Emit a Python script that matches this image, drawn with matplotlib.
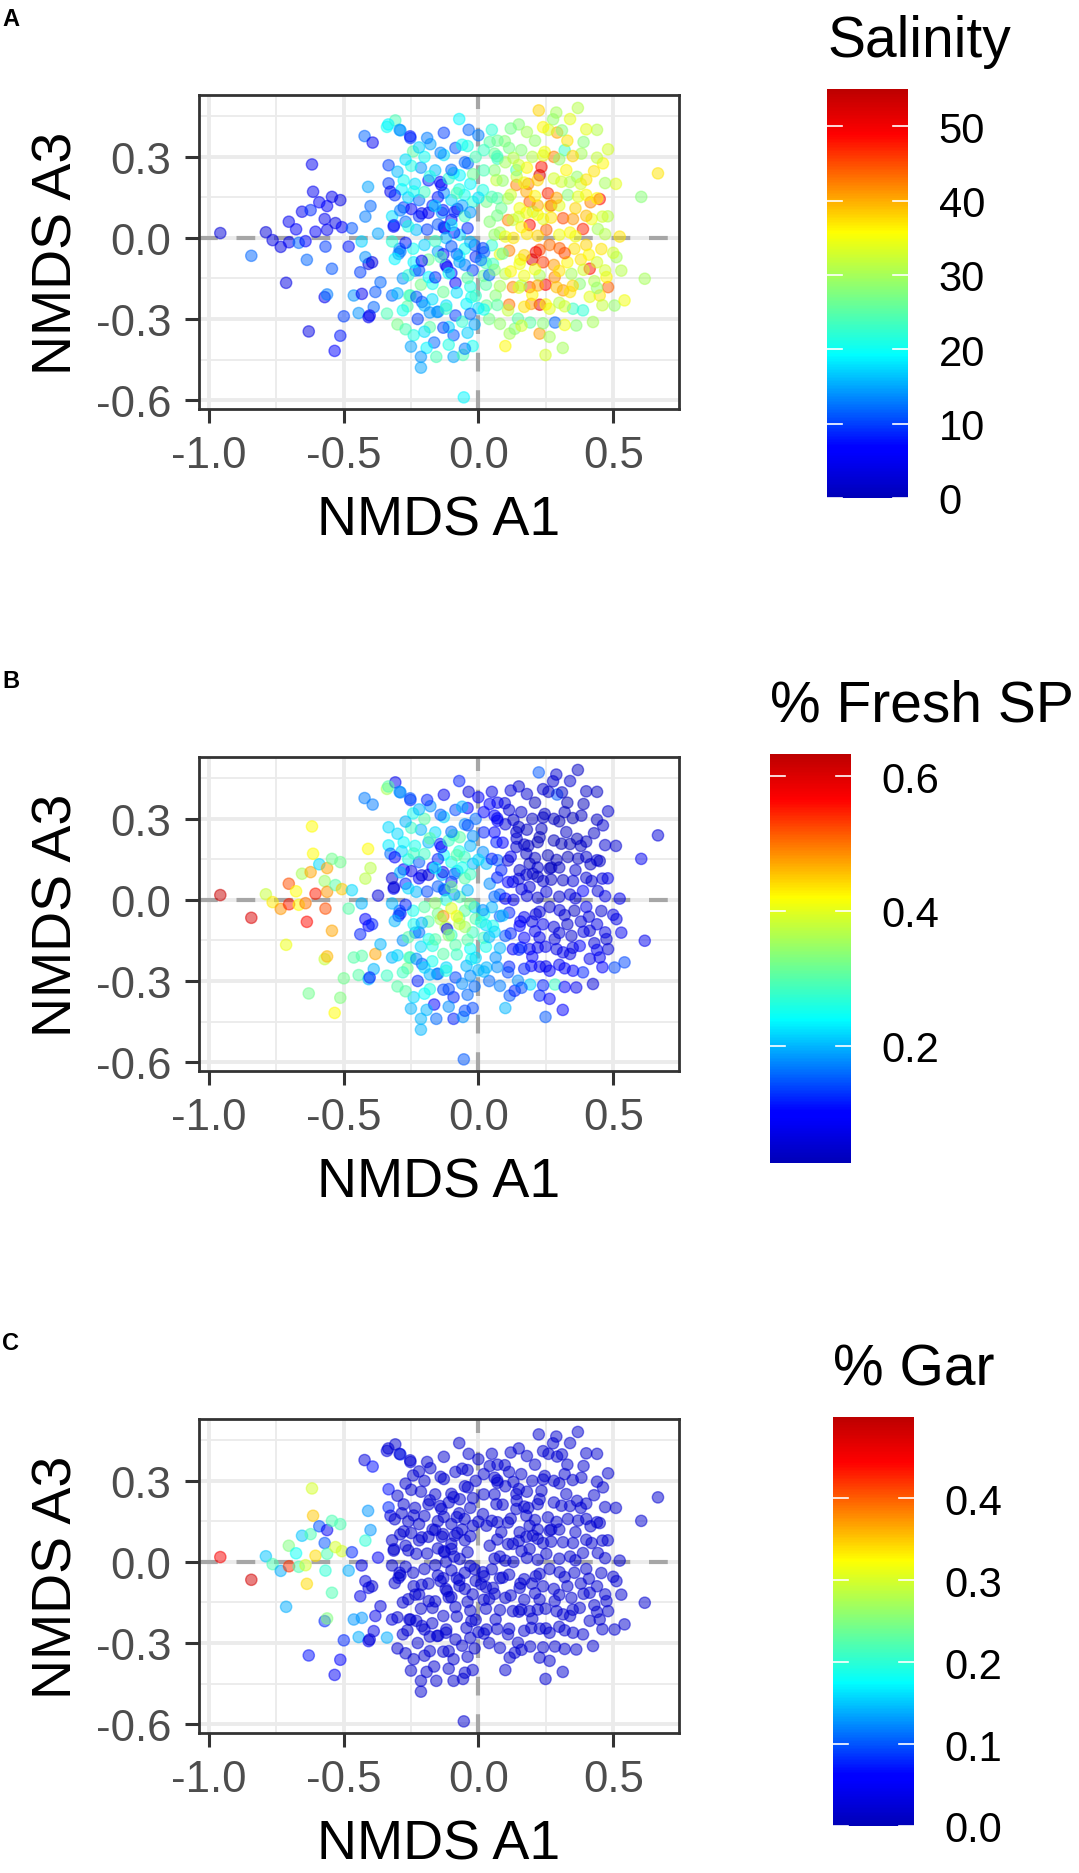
import numpy as np
import matplotlib
matplotlib.use("Agg")
import matplotlib.pyplot as plt
from matplotlib import cm, colors

plt.rcParams['font.family'] = ['Liberation Sans', 'DejaVu Sans']

# ---- data: NMDS A1, NMDS A3, salinity, % fresh SP, % gar ----
nmds_a1 = [
 -0.957,-0.842,-0.788,-0.763,-0.733,-0.703,-0.702,-0.676,-0.666,-0.641,
 -0.654,-0.622,-0.617,-0.613,-0.590,-0.604,-0.570,-0.567,-0.561,-0.561,
 -0.543,-0.530,-0.512,-0.506,-0.469,-0.481,-0.636,-0.543,-0.713,-0.570,
 -0.561,-0.629,-0.512,-0.533,-0.499,-0.462,-0.432,-0.444,-0.407,-0.388,
 -0.382,-0.363,-0.320,-0.339,-0.407,-0.438,-0.419,-0.394,-0.296,-0.422,
 -0.392,-0.333,-0.409,-0.400,-0.419,-0.333,-0.326,-0.372,-0.314,-0.289,
 -0.433,-0.339,-0.308,-0.289,-0.252,-0.403,
 # middle
 -0.334,-0.292,-0.253,-0.128,-0.071,-0.036,0.000,-0.178,-0.128,-0.085,
 -0.242,-0.213,-0.249,-0.277,-0.284,-0.235,-0.185,-0.142,-0.128,-0.092,
 -0.050,-0.071,-0.320,-0.313,-0.277,-0.249,-0.220,-0.185,-0.135,-0.100,
 -0.128,-0.078,-0.292,-0.320,-0.242,-0.220,-0.185,-0.121,-0.085,-0.071,
 -0.050,-0.014,0.021,0.050,0.028,-0.021,-0.213,-0.256,-0.171,-0.263,
 -0.225,-0.149,-0.085,-0.014,-0.164,-0.192,-0.213,-0.156,-0.092,-0.057,
 -0.021,-0.054,-0.213,-0.092,-0.209,-0.252,-0.234,-0.184,-0.153,-0.116,
 -0.026,-0.119,-0.044,-0.137,-0.131,-0.088,-0.125,-0.069,-0.039,-0.051,
 -0.020,-0.069,0.017,
 # right
 0.042,0.098,0.159,0.246,0.320,0.390,0.481,0.382,0.462,0.429,
 0.366,0.326,0.666,0.604,0.450,0.416,0.400,0.234,0.227,0.258,
 0.190,0.141,0.178,0.314,0.351,0.388,0.443,0.524,0.400,0.456,
 0.190,0.110,0.252,0.227,0.264,0.301,0.042,0.067,0.060,0.141,
 0.030,0.085,0.017,0.153,0.202,0.264,0.332,0.308,0.224,0.289,
 0.369,0.277,0.292,0.071,0.114,0.071,0.142,0.185,0.270,0.213,
 0.199,0.114,0.156,0.249,0.228,0.114,0.100,0.249,0.313,0.071,
 0.128,0.178,0.100,0.028,0.064,0.284,0.192,0.356,0.030,0.128,
 0.110,0.190,0.283,0.314,0.196,0.227,0.116,0.135,0.264,0.363,
 0.425,0.351,0.388,0.413,0.481,0.450,0.505,0.542,0.512,0.617,
 0.475,0.376,0.413,0.345,0.153,0.159,0.147,0.264,0.227,0.054,
 # dense core
 -0.26,-0.22,-0.20,-0.16,-0.11,-0.17,-0.10,-0.05,-0.03,-0.01,
 -0.15,-0.23,-0.27,-0.19,-0.04,-0.09,-0.06,-0.20,-0.12,-0.27,
 -0.15,-0.10,-0.05,-0.03,-0.17,-0.13,-0.24,-0.28,-0.20,-0.06,
 0.00,0.02,-0.11,-0.24,-0.30,-0.18,-0.01,-0.08,-0.13,0.04,
 0.08,0.12,0.16,0.20,0.24,0.28,0.30,0.34,0.36,0.38,
 0.42,0.44,0.48,0.47,0.38,0.33,0.28,0.24,0.17,0.20,
 0.30,0.34,0.43,0.08,0.13,0.06,0.10,0.18,0.21,0.26,
 0.33,0.44,0.34,0.15,0.02,0.05,0.28,0.22,0.15,0.51,
 # dense core, second pass (middle)
 -0.22,-0.14,-0.06,0.02,-0.30,-0.18,-0.10,-0.02,-0.31,-0.24,
 -0.15,-0.08,0.00,-0.29,-0.21,-0.16,-0.03,-0.26,-0.19,-0.10,
 -0.04,-0.27,-0.20,-0.16,-0.10,-0.03,-0.31,-0.21,-0.14,-0.07,
 0.01,-0.26,-0.16,-0.11,-0.04,0.04,-0.30,-0.23,-0.08,-0.01,
 -0.28,-0.18,-0.12,-0.03,0.02,-0.27,-0.20,-0.13,-0.04,-0.25,
 -0.11,-0.05,
 # dense core, second pass (right)
 0.12,0.18,0.24,0.31,0.40,0.07,0.13,0.24,0.30,0.35,
 0.44,0.09,0.17,0.22,0.34,0.40,0.47,0.05,0.11,0.21,
 0.29,0.37,0.44,0.07,0.15,0.22,0.27,0.40,0.46,0.06,
 0.10,0.18,0.22,0.30,0.36,0.47,0.09,0.17,0.32,0.41,
 0.50,0.06,0.12,0.21,0.30,0.39,0.53,0.08,0.15,0.22,
 0.29,0.35,0.44,0.07,0.17,0.25,0.32,0.46,0.08,0.16,
 0.24,0.32,
]
nmds_a3 = [
 0.018,-0.066,0.021,-0.008,-0.033,0.060,-0.016,0.032,-0.018,-0.012,
 0.097,0.103,0.272,0.171,0.132,0.023,0.070,-0.032,0.030,0.118,
 0.152,0.055,0.140,0.040,0.036,-0.032,-0.081,-0.114,-0.166,-0.219,
 -0.209,-0.346,-0.362,-0.418,-0.290,-0.213,-0.207,-0.278,-0.293,-0.256,
 -0.200,-0.164,-0.213,-0.280,-0.096,-0.127,-0.071,-0.090,-0.059,0.377,
 0.353,0.269,0.189,0.118,0.079,0.202,0.171,0.016,0.042,-0.050,
 -0.013,0.411,0.435,0.398,0.370,-0.287,
 # middle
 0.420,0.400,0.376,0.389,0.440,0.400,0.380,0.347,0.307,0.333,
 0.320,0.260,0.267,0.213,0.180,0.200,0.213,0.207,0.167,0.240,
 0.280,0.180,0.080,0.047,0.113,0.107,0.080,0.093,0.093,0.067,
 0.040,0.107,-0.040,-0.013,-0.040,-0.120,-0.080,-0.100,-0.167,-0.067,
 -0.040,-0.027,-0.053,-0.027,-0.093,-0.120,-0.173,-0.213,-0.227,-0.253,
 -0.300,-0.273,-0.287,-0.320,-0.387,-0.407,-0.440,-0.440,-0.440,-0.433,
 -0.400,-0.590,-0.480,-0.360,-0.237,-0.213,-0.121,-0.145,-0.274,-0.108,
 -0.219,-0.250,-0.244,0.196,0.103,0.097,0.036,0.232,0.276,0.159,
 0.134,0.011,-0.038,
 # right
 0.355,0.358,0.325,0.318,0.325,0.355,0.328,0.312,0.276,0.247,
 0.226,0.251,0.239,0.152,0.144,0.132,0.159,0.263,0.232,0.165,
 0.134,0.196,0.171,0.073,0.070,0.033,0.033,0.005,-0.026,-0.041,
 0.048,0.066,0.030,-0.044,-0.026,-0.038,0.060,0.214,0.312,0.251,
 0.134,0.110,0.177,0.110,0.097,0.116,0.159,0.208,0.472,0.464,
 0.481,0.439,0.390,0.360,0.333,0.293,0.227,0.200,0.120,-0.053,
 -0.080,-0.047,-0.080,-0.173,-0.247,-0.247,-0.400,-0.433,-0.407,0.147,
 0.067,0.093,-0.133,-0.173,-0.213,-0.313,-0.313,-0.040,-0.250,-0.182,
 -0.268,-0.182,-0.145,-0.194,-0.244,-0.354,-0.354,-0.336,-0.366,-0.324,
 -0.311,-0.262,-0.268,-0.114,-0.182,-0.213,-0.250,-0.231,-0.071,-0.151,
 -0.145,-0.170,-0.218,-0.133,-0.096,-0.176,-0.299,-0.262,-0.139,-0.096,
 # dense core
 0.15,0.14,0.30,0.25,0.22,0.12,0.14,0.08,0.20,0.30,
 0.05,0.03,0.29,0.37,0.34,0.02,0.12,0.17,0.00,0.06,
 -0.05,-0.13,-0.10,-0.18,-0.17,-0.20,-0.09,-0.15,-0.25,-0.31,
 -0.26,-0.14,-0.33,-0.36,-0.32,-0.33,-0.07,-0.06,-0.06,-0.30,
 0.02,0.16,0.04,0.30,0.07,0.22,0.12,0.02,0.11,0.20,
 0.07,-0.09,0.08,-0.12,-0.08,-0.09,-0.10,-0.09,-0.14,-0.21,
 -0.24,-0.20,-0.16,-0.06,0.00,0.25,0.28,0.26,0.36,0.40,
 0.36,0.40,0.44,0.42,0.25,0.40,0.30,0.12,0.27,0.20,
 # second pass (middle)
 0.335,0.315,0.345,0.325,0.245,0.228,0.252,0.236,0.158,0.172,
 0.151,0.166,0.149,0.102,0.091,0.118,0.095,0.043,0.031,0.048,
 0.036,-0.018,-0.026,-0.012,-0.031,-0.015,-0.078,-0.085,-0.071,-0.089,
 -0.082,-0.138,-0.146,-0.131,-0.148,-0.137,-0.205,-0.218,-0.202,-0.214,
 -0.268,-0.276,-0.262,-0.281,-0.265,-0.338,-0.347,-0.332,-0.351,-0.402,
 -0.395,-0.410,
 # second pass (right)
 0.405,0.392,0.410,0.398,0.402,0.302,0.296,0.305,0.291,0.303,
 0.297,0.212,0.205,0.214,0.207,0.216,0.203,0.152,0.146,0.155,
 0.148,0.153,0.147,0.083,0.078,0.086,0.075,0.082,0.079,0.012,
 0.005,0.015,0.008,0.012,0.006,0.014,-0.058,-0.064,-0.056,-0.062,
 -0.055,-0.118,-0.124,-0.116,-0.122,-0.118,-0.121,-0.178,-0.184,-0.176,
 -0.182,-0.177,-0.185,-0.248,-0.255,-0.246,-0.253,-0.249,-0.318,-0.325,
 -0.316,-0.322,
]
salinity = [
 3,12,3,4,4,5,5,6,12,7,
 5,9,5,5,6,6,5,10,5,6,
 5,4,4,7,11,8,12,11,4,5,
 13,4,8,7,10,14,5,14,5,12,
 11,12,12,24,4,10,14,4,13,12,
 5,10,15,12,13,10,5,15,6,13,
 17,20,24,15,10,5,
 # middle
 19,14,8,10,19,12,13,15,18,11,
 25,14,21,20,19,18,8,6,14,18,
 12,21,18,8,10,7,9,6,14,5,
 7,5,13,22,20,10,26,5,6,19,
 20,11,12,22,24,10,27,25,18,25,
 10,14,10,15,12,19,14,24,15,24,
 20,19,15,11,11,23,13,19,14,6,
 20,18,19,6,8,9,5,19,12,20,
 22,18,10,
 # right
 25,28,28,35,23,28,33,30,36,37,
 29,36,37,28,48,42,36,48,52,47,
 44,42,40,45,41,47,30,37,38,37,
 48,42,44,45,43,44,28,32,26,24,
 27,26,21,35,30,35,28,33,38,30,
 31,29,40,26,27,23,32,42,44,50,
 52,42,35,49,51,43,36,33,30,25,
 32,36,31,25,28,12,25,37,26,42,
 32,45,42,41,41,41,30,28,30,28,
 30,23,22,48,44,37,29,35,30,30,
 36,28,34,30,35,29,25,34,30,23,
 # dense core
 17,12,20,16,22,9,17,23,19,24,
 11,16,18,13,21,8,15,23,16,12,
 15,8,13,21,20,26,19,14,16,22,
 18,26,17,21,27,25,9,12,7,27,
 30,33,36,31,34,33,34,36,38,33,
 35,33,31,33,37,36,41,46,35,36,
 31,37,31,34,37,28,30,36,29,33,
 37,31,34,28,24,22,42,40,33,34,
 # second pass (middle)
 17,13,20,23,16,21,12,26,9,20,
 8,24,18,13,5,17,14,21,10,19,
 9,8,17,23,11,16,19,6,24,15,
 13,22,9,20,25,12,16,11,18,23,
 20,14,23,12,20,24,18,10,17,15,
 21,13,
 # second pass (right)
 27,30,36,28,34,24,31,34,29,38,
 32,29,35,38,31,37,30,24,30,36,
 40,34,36,27,33,36,37,39,33,29,
 35,37,38,35,35,31,26,38,45,36,
 33,28,36,35,37,33,31,30,34,40,
 39,38,29,25,37,36,33,32,29,33,
 28,35,
]
fresh_sp = [
 0.62,0.60,0.38,0.43,0.48,0.52,0.55,0.42,0.42,0.50,
 0.36,0.47,0.42,0.42,0.22,0.55,0.35,0.52,0.48,0.47,
 0.32,0.30,0.32,0.45,0.22,0.30,0.56,0.47,0.41,0.38,
 0.46,0.32,0.33,0.42,0.32,0.30,0.30,0.30,0.20,0.20,
 0.47,0.20,0.20,0.28,0.10,0.12,0.10,0.12,0.12,0.17,
 0.17,0.22,0.42,0.37,0.37,0.23,0.16,0.06,0.10,0.12,
 0.20,0.36,0.08,0.17,0.12,0.12,
 # middle
 0.30,0.18,0.15,0.08,0.12,0.06,0.10,0.18,0.22,0.14,
 0.25,0.20,0.28,0.24,0.22,0.25,0.20,0.12,0.24,0.28,
 0.18,0.26,0.06,0.05,0.10,0.08,0.10,0.06,0.20,0.12,
 0.20,0.22,0.15,0.20,0.25,0.16,0.30,0.38,0.30,0.33,
 0.30,0.22,0.25,0.20,0.22,0.28,0.22,0.30,0.25,0.32,
 0.12,0.18,0.14,0.16,0.10,0.20,0.20,0.16,0.12,0.18,
 0.14,0.15,0.20,0.12,0.15,0.28,0.18,0.25,0.16,0.10,
 0.25,0.22,0.20,0.10,0.08,0.15,0.12,0.30,0.14,0.28,
 0.20,0.30,0.18,
 # right
 0.10,0.06,0.05,0.04,0.04,0.03,0.05,0.04,0.05,0.04,
 0.03,0.04,0.06,0.08,0.04,0.04,0.05,0.04,0.03,0.03,
 0.04,0.05,0.04,0.04,0.06,0.10,0.06,0.08,0.08,0.05,
 0.06,0.10,0.06,0.06,0.05,0.06,0.18,0.12,0.10,0.05,
 0.20,0.12,0.18,0.05,0.04,0.03,0.03,0.03,0.15,0.05,
 0.04,0.05,0.15,0.08,0.06,0.10,0.05,0.04,0.04,0.06,
 0.07,0.12,0.10,0.08,0.08,0.12,0.20,0.15,0.10,0.15,
 0.08,0.05,0.15,0.25,0.18,0.28,0.22,0.04,0.20,0.10,
 0.14,0.08,0.06,0.08,0.10,0.12,0.15,0.12,0.10,0.08,
 0.06,0.10,0.12,0.05,0.06,0.08,0.14,0.14,0.07,0.08,
 0.05,0.10,0.08,0.05,0.10,0.12,0.18,0.10,0.08,0.25,
 # dense core
 0.26,0.15,0.30,0.22,0.28,0.10,0.25,0.30,0.20,0.16,
 0.15,0.20,0.20,0.12,0.10,0.18,0.25,0.28,0.26,0.12,
 0.32,0.28,0.35,0.24,0.26,0.30,0.25,0.18,0.22,0.18,
 0.20,0.28,0.14,0.22,0.30,0.26,0.30,0.42,0.48,0.16,
 0.15,0.08,0.07,0.04,0.05,0.03,0.04,0.06,0.05,0.04,
 0.05,0.07,0.08,0.07,0.06,0.05,0.06,0.08,0.10,0.10,
 0.09,0.07,0.06,0.16,0.08,0.10,0.06,0.04,0.03,0.04,
 0.03,0.04,0.05,0.05,0.12,0.07,0.04,0.05,0.04,0.05,
 # second pass (middle)
 0.20,0.15,0.20,0.10,0.22,0.30,0.16,0.18,0.10,0.28,
 0.12,0.30,0.22,0.20,0.06,0.24,0.28,0.22,0.14,0.32,
 0.20,0.12,0.30,0.34,0.40,0.32,0.20,0.20,0.36,0.38,
 0.26,0.30,0.30,0.34,0.30,0.20,0.22,0.18,0.28,0.22,
 0.28,0.20,0.26,0.18,0.20,0.30,0.24,0.14,0.16,0.20,
 0.18,0.14,
 # second pass (right)
 0.06,0.05,0.05,0.04,0.04,0.08,0.05,0.04,0.03,0.03,
 0.04,0.10,0.04,0.03,0.03,0.04,0.05,0.12,0.06,0.04,
 0.03,0.04,0.05,0.12,0.06,0.04,0.04,0.05,0.06,0.16,
 0.10,0.06,0.05,0.05,0.06,0.07,0.20,0.08,0.05,0.06,
 0.07,0.22,0.12,0.08,0.06,0.07,0.08,0.20,0.12,0.08,
 0.07,0.07,0.08,0.18,0.12,0.08,0.09,0.10,0.17,0.14,
 0.12,0.10,
]
gar_pct = [
 0.45,0.48,0.15,0.22,0.14,0.25,0.42,0.18,0.22,0.30,
 0.15,0.22,0.30,0.35,0.10,0.34,0.10,0.20,0.22,0.05,
 0.22,0.30,0.22,0.30,0.08,0.14,0.34,0.22,0.14,0.08,
 0.25,0.07,0.06,0.05,0.08,0.13,0.13,0.14,0.05,0.04,
 0.04,0.03,0.03,0.14,0.03,0.04,0.03,0.02,0.02,0.03,
 0.07,0.07,0.13,0.13,0.20,0.08,0.03,0.05,0.02,0.02,
 0.04,0.03,0.02,0.08,0.03,0.02,
] + [0.02] * (83 + 110 + 80 + 52 + 62)

# ---- figure ----
W, H = 1079, 1874
fig = plt.figure(figsize=(W / 100, H / 100), dpi=100)

# jet-like ramp as used in the reference (slightly lighter ends)
cmap = colors.LinearSegmentedColormap.from_list('jetlike', [
    (0.00, (0.0, 0.0, 0.72)),
    (0.11, (0.0, 0.0, 1.0)),
    (0.125, (0.0, 0.0, 1.0)),
    (0.35, (0.0, 1.0, 1.0)),
    (0.5, (0.5, 1.0, 0.5)),
    (0.65, (1.0, 1.0, 0.0)),
    (0.89, (1.0, 0.0, 0.0)),
    (1.00, (0.74, 0.0, 0.0)),
])

GRID = '#EBEBEB'
DARK = '#333333'

panels = [
    dict(letter='A', top=96, vals=salinity, vmin=0, vmax=55, title='Salinity',
         cb_left=827, cb_top=90, ticks=[0, 10, 20, 30, 40, 50],
         ticklabels=['0', '10', '20', '30', '40', '50']),
    dict(letter='B', top=758, vals=fresh_sp, vmin=0.026, vmax=0.633, title='% Fresh SP',
         cb_left=770, cb_top=755, ticks=[0.2, 0.4, 0.6],
         ticklabels=['0.2', '0.4', '0.6']),
    dict(letter='C', top=1420, vals=gar_pct, vmin=0.0, vmax=0.499, title='% Gar',
         cb_left=833, cb_top=1418, ticks=[0.0, 0.1, 0.2, 0.3, 0.4],
         ticklabels=['0.0', '0.1', '0.2', '0.3', '0.4']),
]

ax_left, ax_w, ax_h = 199, 480, 314
cb_w, cb_h = 81, 409

for p in panels:
    ax = fig.add_axes([ax_left / W, 1 - (p['top'] + ax_h) / H, ax_w / W, ax_h / H])
    ax.set_xlim(-1.036, 0.744)
    ax.set_ylim(-0.633, 0.529)
    ax.set_facecolor('white')
    # grid
    for v in [-0.75, -0.25, 0.25]:
        ax.axvline(v, color=GRID, lw=1.3, zorder=0)
    for v in [0.45, 0.15, -0.15, -0.45]:
        ax.axhline(v, color=GRID, lw=1.3, zorder=0)
    for v in [-1.0, -0.5, 0.0, 0.5]:
        ax.axvline(v, color=GRID, lw=2.8, zorder=0)
    for v in [0.3, 0.0, -0.3, -0.6]:
        ax.axhline(v, color=GRID, lw=2.8, zorder=0)
    ax.axhline(0, color='#A6A6A6', lw=3.0, ls=(0, (4.5, 4.5)), zorder=1)
    ax.axvline(0, color='#A6A6A6', lw=3.0, ls=(0, (4.5, 4.5)), zorder=1)

    norm = colors.Normalize(vmin=p['vmin'], vmax=p['vmax'])
    rgba = cmap(norm(np.array(p['vals'])))
    rgba[:, 3] = 0.5
    ax.scatter(nmds_a1, nmds_a3, s=66, c=rgba, edgecolors=rgba, linewidths=1.0, zorder=3)

    ax.set_xticks([-1.0, -0.5, 0.0, 0.5])
    ax.set_xticklabels(['-1.0', '-0.5', '0.0', '0.5'])
    ax.set_yticks([0.3, 0.0, -0.3, -0.6])
    ax.set_yticklabels(['0.3', '0.0', '-0.3', '-0.6'])
    ax.tick_params(axis='both', length=10, width=2.2, color=DARK, labelsize=31.5,
                   labelcolor='#4D4D4D')
    ax.tick_params(axis='x', pad=9)
    ax.tick_params(axis='y', pad=10)
    for s in ax.spines.values():
        s.set_color(DARK)
        s.set_linewidth(2.0)

    # axis titles
    cx = (ax_left + ax_w / 2) / W
    fig.text(cx, 1 - (p['top'] + 440) / H, 'NMDS A1', ha='center', va='baseline',
             fontsize=40, color='black')
    fig.text(71 / W, 1 - (p['top'] + ax_h / 2) / H, 'NMDS A3', ha='center', va='baseline',
             rotation=90, rotation_mode='anchor', fontsize=40, color='black')
    # panel letter
    fig.text(2 / W, 1 - (p['top'] - 88) / H, p['letter'], ha='left', va='top',
             fontsize=17, fontweight='bold')

    # colorbar
    cax = fig.add_axes([p['cb_left'] / W, 1 - (p['cb_top'] + cb_h) / H, cb_w / W, cb_h / H])
    sm = cm.ScalarMappable(norm=norm, cmap=cmap)
    cb = fig.colorbar(sm, cax=cax)
    cb.outline.set_visible(False)
    cb.set_ticks(p['ticks'])
    cb.set_ticklabels(p['ticklabels'])
    cax.tick_params(length=0, labelsize=30, pad=22, labelcolor='black')
    for t in p['ticks']:
        cax.plot([0, 0.19], [t, t], color='white', lw=1.2, transform=cax.get_yaxis_transform())
        cax.plot([0.81, 1], [t, t], color='white', lw=1.2, transform=cax.get_yaxis_transform())
    fig.text(p['cb_left'] / W, 1 - (p['cb_top'] - 33) / H, p['title'], ha='left',
             va='baseline', fontsize=41, color='black')

fig.savefig('out.png', dpi=100)
